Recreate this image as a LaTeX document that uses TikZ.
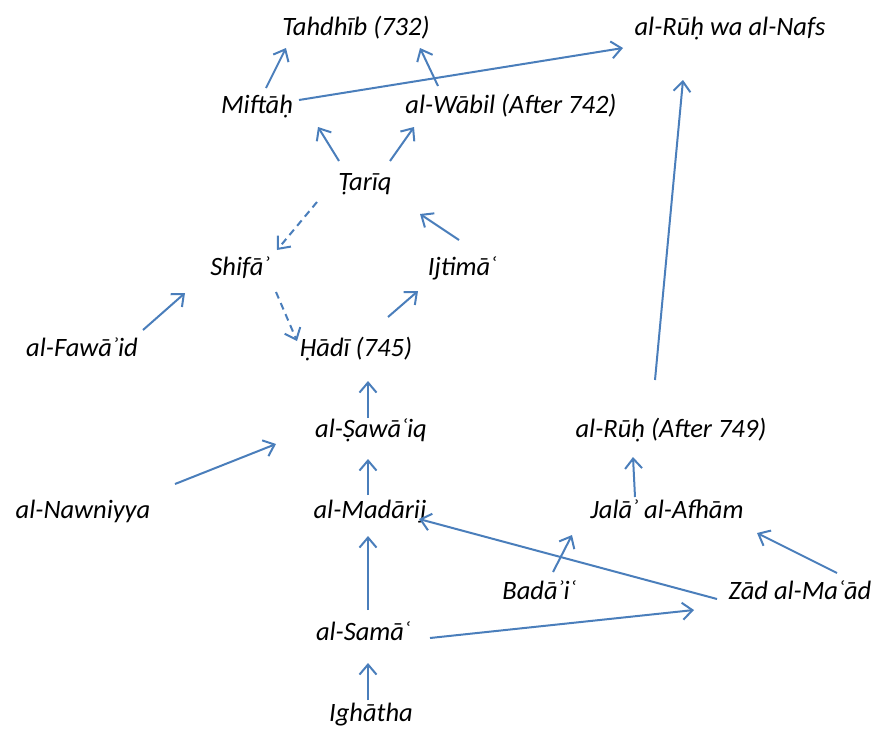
\documentclass[tikz,border=0pt]{standalone}
\usepackage{fontspec}
\setmainfont{Carlito}
\usetikzlibrary{arrows.meta}
\definecolor{arrowblue}{HTML}{4A7EBB}
\begin{document}
\begin{tikzpicture}[x=1pt,y=-1pt,
  lbl/.style={anchor=base,inner sep=0pt,font=\fontsize{26.5}{30}\selectfont\itshape},
  conn/.style={draw=arrowblue,line width=2pt,-{Straight Barb[length=10pt,width=17pt,line width=2pt]}},
  dconn/.style={conn,dash pattern=on 7pt off 5pt}]
\useasboundingbox (0,0) rectangle (883,731);
% labels
\node[lbl] (tahdhib) at (356,35) {Tahdhīb (732)};
\node[lbl] (ruhnafs) at (730,35) {al-Rūḥ wa al-Nafs};
\node[lbl] (miftah) at (257,113) {Miftāḥ};
\node[lbl] (wabil) at (511,113) {al-Wābil (After 742)};
\node[lbl] (tariq) at (365,190) {Ṭarīq};
\node[lbl] (shifa) at (240,275) {Shifāʾ};
\node[lbl] (ijtima) at (462,275) {Ijtimāʿ};
\node[lbl] (hadi) at (356,356) {Ḥādī (745)};
\node[lbl] (fawaid) at (82,356) {al-Fawāʾid};
\node[lbl] (sawaiq) at (371,437) {al-Ṣawāʿiq};
\node[lbl] (ruh) at (671,437) {al-Rūḥ (After 749)};
\node[lbl] (nawniyya) at (83,518) {al-Nawniyya};
\node[lbl] (madarij) at (370,518) {al-Madārij};
\node[lbl] (jala) at (667,518) {Jalāʾ al-Afhām};
\node[lbl] (badai) at (539,599) {Badāʾiʿ};
\node[lbl] (zad) at (800,599) {Zād al-Maʿād};
\node[lbl] (sama) at (363,640) {al-Samāʿ};
\node[lbl] (ighatha) at (371,721) {Ighātha};
% connector end points
\coordinate (m-t1) at (266,88);   \coordinate (m-t2) at (286,48);
\coordinate (w-t1) at (438,86);   \coordinate (w-t2) at (420,48);
\coordinate (m-r1) at (299,100);  \coordinate (m-r2) at (623,48);
\coordinate (t-m1) at (339,161);  \coordinate (t-m2) at (318,127);
\coordinate (t-w1) at (390,161);  \coordinate (t-w2) at (414,127);
\coordinate (t-s1) at (317,202);  \coordinate (t-s2) at (277,250);
\coordinate (i-t1) at (459,240);  \coordinate (i-t2) at (420,214);
\coordinate (s-h1) at (276,292);  \coordinate (s-h2) at (297,341);
\coordinate (h-i1) at (388,317);  \coordinate (h-i2) at (418,291);
\coordinate (f-s1) at (143,330);  \coordinate (f-s2) at (185,293);
\coordinate (sw-h1) at (368,418); \coordinate (sw-h2) at (368,381);
\coordinate (n-s1) at (175,484);  \coordinate (n-s2) at (276,444);
\coordinate (md-s1) at (368,495); \coordinate (md-s2) at (368,459);
\coordinate (sm-m1) at (368,610); \coordinate (sm-m2) at (368,536);
\coordinate (ig-s1) at (368,700); \coordinate (ig-s2) at (368,663);
\coordinate (sm-z1) at (430,638); \coordinate (sm-z2) at (694,610);
\coordinate (z-m1) at (717,599);  \coordinate (z-m2) at (419,519);
\coordinate (b-j1) at (553,572);  \coordinate (b-j2) at (572,535);
\coordinate (z-j1) at (837,573);  \coordinate (z-j2) at (757,533);
\coordinate (j-r1) at (635,497);  \coordinate (j-r2) at (633,457);
\coordinate (r-n1) at (655,380);  \coordinate (r-n2) at (683,80);
% connectors
\draw[conn] (m-t1) -- (m-t2);
\draw[conn] (w-t1) -- (w-t2);
\draw[conn] (m-r1) -- (m-r2);
\draw[conn] (t-m1) -- (t-m2);
\draw[conn] (t-w1) -- (t-w2);
\draw[dconn] (t-s1) -- (t-s2);
\draw[conn] (i-t1) -- (i-t2);
\draw[dconn] (s-h1) -- (s-h2);
\draw[conn] (h-i1) -- (h-i2);
\draw[conn] (f-s1) -- (f-s2);
\draw[conn] (sw-h1) -- (sw-h2);
\draw[conn] (n-s1) -- (n-s2);
\draw[conn] (md-s1) -- (md-s2);
\draw[conn] (sm-m1) -- (sm-m2);
\draw[conn] (ig-s1) -- (ig-s2);
\draw[conn] (sm-z1) -- (sm-z2);
\draw[conn] (z-m1) -- (z-m2);
\draw[conn] (b-j1) -- (b-j2);
\draw[conn] (z-j1) -- (z-j2);
\draw[conn] (j-r1) -- (j-r2);
\draw[conn] (r-n1) -- (r-n2);
\end{tikzpicture}
\end{document}
